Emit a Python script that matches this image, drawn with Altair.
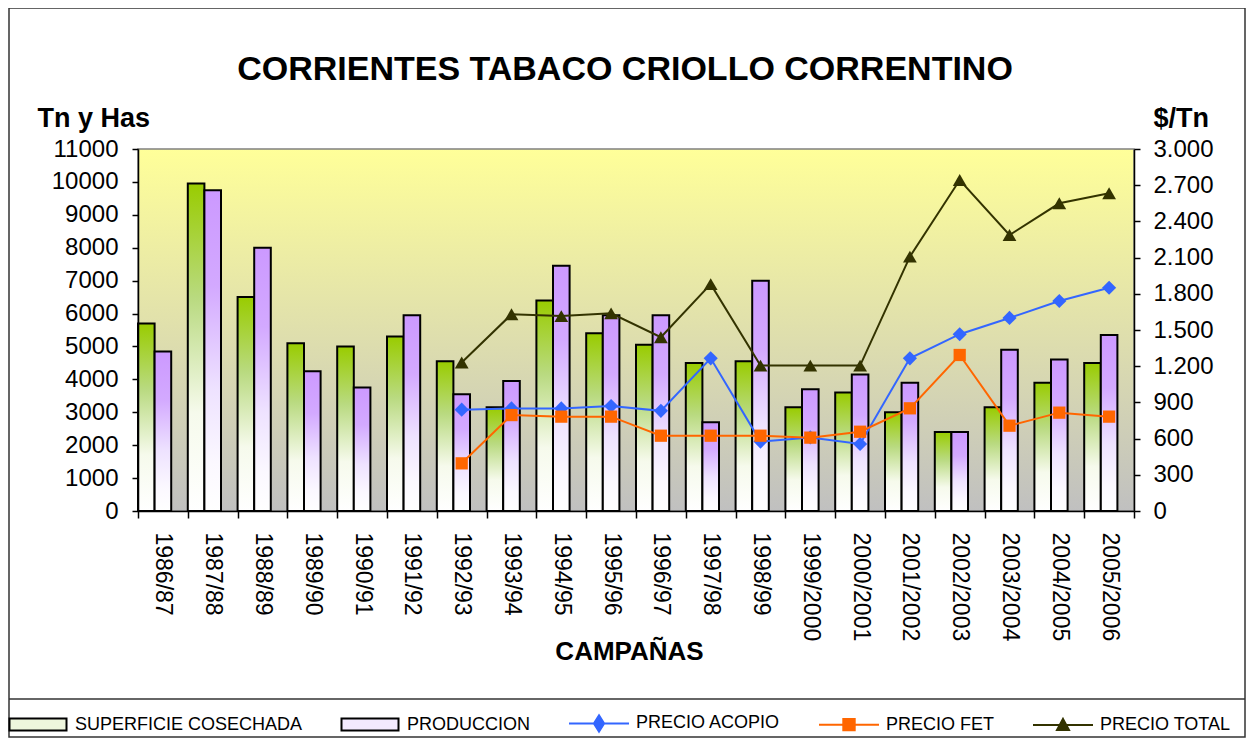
import altair as alt
import pandas as pd

# ---------------- data ----------------
titulo = "CORRIENTES TABACO CRIOLLO CORRENTINO"
campanas = ["1986/87", "1987/88", "1988/89", "1989/90", "1990/91", "1991/92",
            "1992/93", "1993/94", "1994/95", "1995/96", "1996/97", "1997/98",
            "1998/99", "1999/2000", "2000/2001", "2001/2002", "2002/2003",
            "2003/2004", "2004/2005", "2005/2006"]
superficie = [5700, 9950, 6500, 5100, 5000, 5300, 4550, 3150, 6400, 5400,
              5050, 4500, 4550, 3150, 3600, 3000, 2400, 3150, 3900, 4500]
produccion = [4850, 9750, 8000, 4250, 3750, 5950, 3550, 3950, 7450, 5950,
              5950, 2700, 7000, 3700, 4150, 3900, 2400, 4900, 4600, 5350]
precio_acopio = [None, None, None, None, None, None,
                 840, 850, 850, 870, 830, 1265, 575, 610, 555, 1265, 1465, 1600, 1740, 1850]
precio_fet = [None, None, None, None, None, None,
              395, 795, 782, 782, 624, 624, 624, 608, 657, 851, 1293, 707, 815, 782]
precio_total = [None, None, None, None, None, None,
                1230, 1630, 1615, 1638, 1440, 1880, 1205, 1205, 1205, 2108, 2743, 2287, 2550, 2633]

series_barras = ["SUPERFICIE COSECHADA", "PRODUCCION"]
series_precios = ["PRECIO ACOPIO", "PRECIO FET", "PRECIO TOTAL"]
leyenda = series_barras + series_precios
left_ticks = list(range(0, 11001, 1000))
right_ticks = list(range(0, 3001, 300))

rows_bar = []
for i, c in enumerate(campanas):
    rows_bar.append({"campana": c, "serie": series_barras[0], "valor": superficie[i]})
    rows_bar.append({"campana": c, "serie": series_barras[1], "valor": produccion[i]})
bars_df = pd.DataFrame(rows_bar)

rows_p = []
for name, vals in zip(series_precios, [precio_acopio, precio_fet, precio_total]):
    for c, v in zip(campanas, vals):
        if v is not None:
            rows_p.append({"campana": c, "serie": name, "valor": v})
price_df = pd.DataFrame(rows_p)

# ---------------- styling ----------------
FONT = "Liberation Sans"
W, H = 996, 362

def grad(stops):
    return alt.Gradient(gradient="linear", x1=0, x2=0, y1=0, y2=1,
                        stops=[alt.GradientStop(color=c, offset=o) for o, c in stops])

grad_bg = grad([(0, "#FFFF99"), (1, "#C0C0C0")])
grad_green = grad([(0, "#99CC00"), (0.35, "#B9DA80"), (0.7, "#F6FAEC"), (1, "#FFFFFF")])
grad_purple = grad([(0, "#CC99FF"), (0.3, "#D3A9FF"), (0.62, "#EEE2FF"), (0.85, "#FBF8FF"), (1, "#FFFFFF")])

x_enc = alt.X(
    "campana:N", sort=campanas,
    scale=alt.Scale(domain=campanas, paddingInner=0, paddingOuter=0),
    axis=alt.Axis(title="CAMPAÑAS", labelAngle=90, labelAlign="left", labelBaseline="middle",
                  labelFontSize=23, labelPadding=14, tickBand="extent", tickSize=7,
                  titleFontSize=26, titleFontWeight="bold", titleX=491, titleY=148,
                  titleBaseline="alphabetic", titleAlign="center", zindex=1),
)
x_off = alt.XOffset("serie:N", scale=alt.Scale(domain=series_barras + ["_"], paddingInner=0, paddingOuter=0))

y_left = alt.Y(
    "valor:Q", scale=alt.Scale(domain=[0, 11000], nice=False, zero=True),
    axis=alt.Axis(title="Tn y Has", orient="left", values=left_ticks, format="d",
                  titleAngle=0, titleX=-101, titleY=-23, titleAlign="left",
                  titleBaseline="alphabetic", titleFontSize=27, titleFontWeight="bold",
                  labelFontSize=24, labelPadding=14, tickSize=6, grid=False, zindex=1),
)
y_right = alt.Y(
    "valor:Q", scale=alt.Scale(domain=[0, 3000], nice=False, zero=True),
    axis=alt.Axis(title="$/Tn", orient="right", values=right_ticks,
                  labelExpr="replace(format(datum.value, ','), ',', '.')",
                  titleAngle=0, titleX=19, titleY=-23, titleAlign="left",
                  titleBaseline="alphabetic", titleFontSize=27, titleFontWeight="bold",
                  labelFontSize=24, labelPadding=13, tickSize=6, grid=False, zindex=1),
)

one = alt.Data(values=[{}])
bg = alt.Chart(one).mark_rect(fill=grad_bg, stroke="#808080", strokeWidth=1.5).encode(
    x=alt.value(0), x2=alt.value(W), y=alt.value(0), y2=alt.value(H))
frame = alt.Chart(one).mark_rect(fill="transparent", stroke="#333333", strokeWidth=1.5).encode(
    x=alt.value(-129), x2=alt.value(1107), y=alt.value(-141), y2=alt.value(588))
legend_line = alt.Chart(one).mark_rule(color="#333333", strokeWidth=1.5).encode(
    x=alt.value(-129), x2=alt.value(1107), y=alt.value(550))
title_text = alt.Chart(one).mark_text(
    text=titulo, font=FONT, fontSize=34, fontWeight="bold", color="black",
    align="center", baseline="alphabetic").encode(x=alt.value(487), y=alt.value(-69))

green = alt.Chart(bars_df).transform_filter(alt.datum.serie == series_barras[0]).mark_bar(
    fill=grad_green, stroke="black", strokeWidth=2).encode(x=x_enc, xOffset=x_off, y=y_left)
purple = alt.Chart(bars_df).transform_filter(alt.datum.serie == series_barras[1]).mark_bar(
    fill=grad_purple, stroke="black", strokeWidth=2).encode(x=x_enc, xOffset=x_off, y=y_left)

bars_group = alt.layer(bg, frame, legend_line, title_text, green, purple)

line_specs = [("PRECIO ACOPIO", "#3366FF", "diamond", 200),
              ("PRECIO FET", "#FF6600", "square", 150),
              ("PRECIO TOTAL", "#333300", "triangle-up", 190)]
line_layers = []
for name, col, shp, sz in line_specs:
    line_layers.append(
        alt.Chart(price_df).transform_filter(alt.datum.serie == name).mark_line(
            color=col, strokeWidth=2,
            point=alt.OverlayMarkDef(shape=shp, filled=True, size=sz, color=col, opacity=1),
        ).encode(x=x_enc, y=y_right)
    )

leg_fill = ["#EEF6DD", "#F3EAFE", "#3366FF", "#FF6600", "#333300"]
leg_stroke = ["#000000", "#000000", "#3366FF", "#FF6600", "#333300"]
leg_shape = [
    "M-0.95,-0.2H0.95V0.2H-0.95Z",
    "M-0.95,-0.2H0.95V0.2H-0.95Z",
    "M-1,0H1M0,-0.27L0.17,0L0,0.27L-0.17,0Z",
    "M-1,0H1M-0.19,-0.19H0.19V0.19H-0.19Z",
    "M-1,0H1M0,-0.2L0.2,0.17H-0.2Z",
]
L = alt.Legend(title=None, orient="none", legendX=-131, legendY=543, direction="horizontal",
               columns=5, symbolSize=3600, symbolStrokeWidth=2, labelFontSize=18,
               labelFont=FONT, labelColor="black", columnPadding=34, labelOffset=6,
               labelLimit=500)
legend_layer = alt.Chart(price_df).transform_filter("false").mark_point(
    filled=True, opacity=1, size=3600).encode(
    x=x_enc, y=y_right,
    fill=alt.Fill("serie:N", scale=alt.Scale(domain=leyenda, range=leg_fill), legend=L),
    stroke=alt.Stroke("serie:N", scale=alt.Scale(domain=leyenda, range=leg_stroke), legend=L),
    shape=alt.Shape("serie:N", scale=alt.Scale(domain=leyenda, range=leg_shape), legend=L),
)

lines_group = alt.layer(*line_layers, legend_layer)

chart = alt.layer(bars_group, lines_group).resolve_scale(y="independent").properties(
    width=W, height=H,
    padding={"left": 130, "top": 141, "right": 112, "bottom": 227},
    autosize=alt.AutoSizeParams(type="none"),
).configure(background="white").configure_view(stroke=None).configure_axis(
    labelFont=FONT, titleFont=FONT, labelColor="black", titleColor="black",
    domainColor="black", domainWidth=1.5, tickColor="black", tickWidth=1.5,
)

chart.save("out.html", embed_options={"renderer": "svg", "actions": False})
